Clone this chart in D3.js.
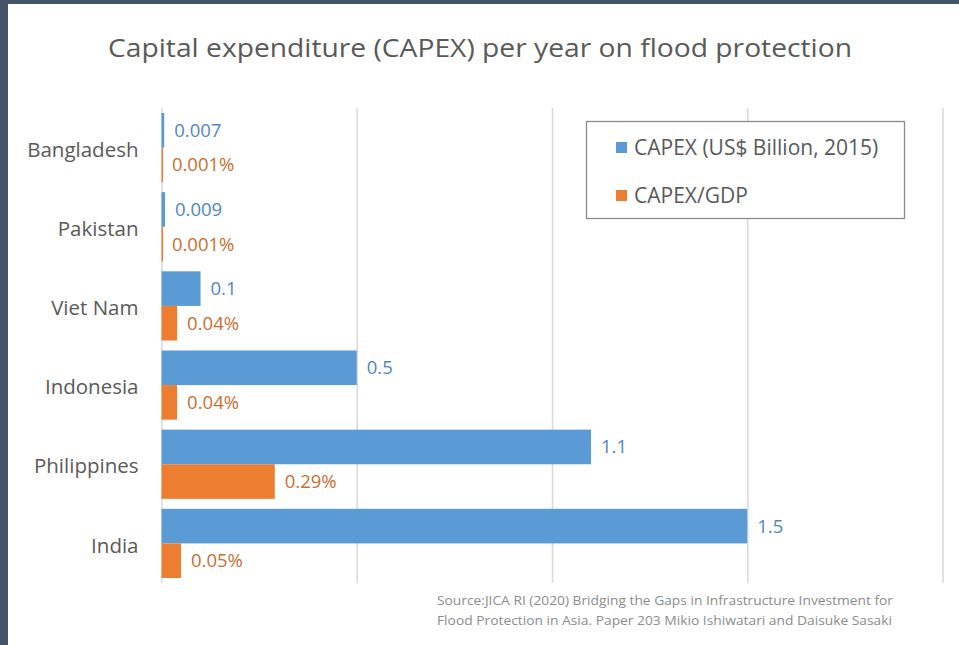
<!DOCTYPE html>
<html>
<head>
<meta charset="utf-8">
<script src="https://cdn.jsdelivr.net/npm/d3@7/dist/d3.min.js"></script>
<style>
  html, body { margin: 0; padding: 0; background: #ffffff; }
  svg { display: block; font-family: "Open Sans", Lato, sans-serif; }
</style>
</head>
<body>
<svg id="chart" width="959" height="645"></svg>
<script>
// Flood protection spending by country
const countries = ["Bangladesh", "Pakistan", "Viet Nam", "Indonesia", "Philippines", "India"];
const capexBillion = [0.007, 0.009, 0.1, 0.5, 1.1, 1.5];   // US$ billion, 2015
const capexPctGdp  = [0.001, 0.001, 0.04, 0.04, 0.29, 0.05]; // percent of GDP
const xTicks = [0, 0.5, 1, 1.5, 2];
const seriesNames = ["CAPEX (US$ Billion, 2015)", "CAPEX/GDP"];
const titleText = "Capital expenditure (CAPEX) per year on flood protection";
const sourceLines = [
  "Source:JICA RI (2020) Bridging the Gaps in Infrastructure Investment for",
  "Flood Protection in Asia. Paper 203 Mikio Ishiwatari and Daisuke Sasaki"
];

const colors = { bar: ["#5b9bd5", "#ed7d31"], label: ["#5086c4", "#c96e31"] };

const svg = d3.select("#chart");
const W = 959, H = 645;

// slide frame
svg.append("rect").attr("x", 0).attr("y", 0).attr("width", W).attr("height", H).attr("fill", "#44546a");
svg.append("rect").attr("x", 8).attr("y", 4).attr("width", W - 8).attr("height", H - 4).attr("fill", "#ffffff");

const plot = { left: 161.5, right: 942.5, top: 108, bottom: 583 };

const x = d3.scaleLinear().domain([0, 2]).range([plot.left, plot.right]);
const y = d3.scaleBand().domain(countries).range([plot.top, plot.bottom])
  .paddingInner(0.126).paddingOuter(0.063);
const ySub = d3.scaleBand().domain([0, 1]).range([0, y.bandwidth()]);

// title
svg.append("text")
  .attr("x", 480).attr("y", 57)
  .attr("text-anchor", "middle")
  .attr("font-size", 26)
  .attr("fill", "#595959")
  .attr("textLength", 744)
  .attr("lengthAdjust", "spacingAndGlyphs")
  .text(titleText);

// vertical gridlines
const grid = svg.append("g")
  .attr("transform", `translate(0,${plot.bottom})`)
  .call(d3.axisBottom(x).tickValues(xTicks).tickSize(-(plot.bottom - plot.top)).tickFormat(""));
grid.select(".domain").remove();
grid.selectAll(".tick line").attr("stroke", "#d9d9d9").attr("stroke-width", 1.5);

// category axis
const yAxis = svg.append("g")
  .attr("transform", `translate(${plot.left},0)`)
  .call(d3.axisLeft(y).tickSize(0).tickPadding(23));
yAxis.select(".domain").remove();
yAxis.selectAll(".tick text")
  .attr("font-size", 20.5)
  .attr("fill", "#595959")
  .attr("dy", "0.45em")
  .attr("font-family", "'Open Sans', sans-serif");

const rows = countries.map((c, i) => ({ c, vals: [capexBillion[i], capexPctGdp[i]] }));

const groups = svg.append("g").selectAll("g")
  .data(rows).join("g")
  .attr("transform", d => `translate(0,${y(d.c)})`);

groups.selectAll("rect")
  .data(d => d.vals.map((v, s) => ({ v, s })))
  .join("rect")
  .attr("x", x(0))
  .attr("y", d => ySub(d.s))
  .attr("width", d => Math.max(x(d.v) - x(0), 1.6))
  .attr("height", ySub.bandwidth())
  .attr("fill", d => colors.bar[d.s]);

groups.selectAll("text.val")
  .data(d => d.vals.map((v, s) => ({ v, s })))
  .join("text")
  .attr("class", "val")
  .attr("x", d => x(d.v) + 10)
  .attr("y", d => ySub(d.s) + ySub.bandwidth() / 2)
  .attr("dy", "0.35em")
  .attr("font-size", 18.5)
  .attr("fill", d => colors.label[d.s])
  .text(d => d.s === 0 ? String(d.v) : String(d.v) + "%");

// legend
const legend = svg.append("g");
legend.append("rect")
  .attr("x", 586.5).attr("y", 121.5).attr("width", 318).attr("height", 97)
  .attr("fill", "#ffffff").attr("stroke", "#8c8c8c").attr("stroke-width", 1.3);
seriesNames.forEach((name, i) => {
  const cy = 148 + i * 48;
  legend.append("rect")
    .attr("x", 616).attr("y", cy - 6).attr("width", 11).attr("height", 11)
    .attr("fill", colors.bar[i]);
  legend.append("text")
    .attr("x", 634).attr("y", cy).attr("dy", "0.35em")
    .attr("font-size", 21).attr("fill", "#595959")
    .text(name);
});

// source note
sourceLines.forEach((line, i) => {
  svg.append("text")
    .attr("x", 437).attr("y", 605 + i * 19.5)
    .attr("font-size", 13.5).attr("fill", "#8c8c8c")
    .attr("textLength", i === 0 ? 456 : 455)
    .attr("lengthAdjust", "spacingAndGlyphs")
    .text(line);
});
</script>
</body>
</html>
